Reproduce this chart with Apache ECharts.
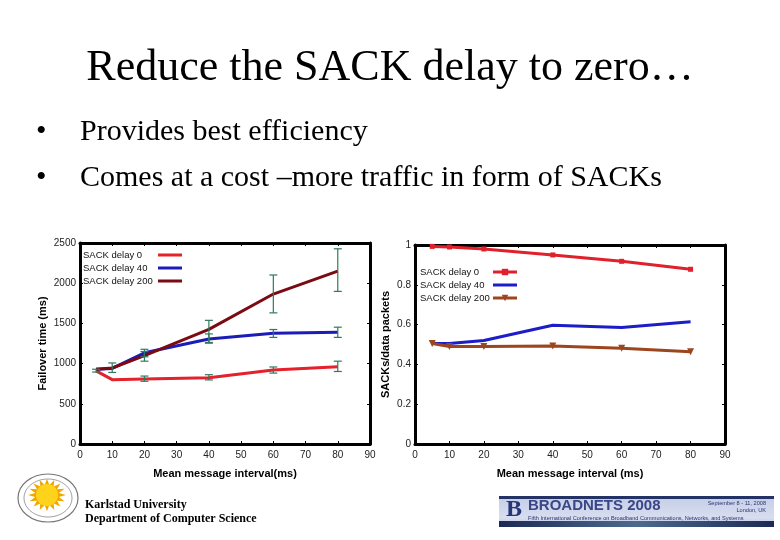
<!DOCTYPE html>
<html>
<head>
<meta charset="utf-8">
<script src="https://cdn.jsdelivr.net/npm/echarts@6/dist/echarts.min.js"></script>
<style>
  html, body { margin: 0; padding: 0; background: #ffffff; }
  #main { width: 780px; height: 540px; }
</style>
</head>
<body>
<div id="main"></div>
<script>
// Mean message interval (ms)
var intervals = [5, 10, 20, 40, 60, 80];

// Failover time (ms), left chart
var failover0 = [910, 800, 810, 825, 920, 960];
var failover40 = [930, 940, 1135, 1305, 1377, 1390];
var failover200 = [930, 945, 1100, 1425, 1865, 2150];

// error bars: [interval, low, high]
var failErr0 = [[5, 895, 930], [20, 780, 845], [40, 797, 862], [60, 882, 958], [80, 902, 1030]];
var failErr40 = [[10, 890, 1008], [20, 1085, 1178], [40, 1254, 1369], [60, 1326, 1424], [80, 1326, 1453]];
var failErr200 = [[20, 1030, 1150], [40, 1263, 1538], [60, 1631, 2102], [80, 1898, 2428]];

// SACKs / data packets, right chart
var ratio0 = [0.993, 0.99, 0.98, 0.95, 0.918, 0.878];
var ratio40 = [0.505, 0.505, 0.52, 0.597, 0.585, 0.614];
var ratio200 = [0.505, 0.49, 0.49, 0.493, 0.481, 0.463];

var legendNames = ['SACK delay 0', 'SACK delay 40', 'SACK delay 200'];
var legendNamesRight = ['SACK delay 0 ', 'SACK delay 40 ', 'SACK delay 200 '];

var chart = echarts.init(document.getElementById('main'));

var sans = 'Liberation Sans';
var errColor = '#2f7a5c';

function pairs(ys) {
  return intervals.map(function (x, i) { return [x, ys[i]]; });
}

function errorBars(params, api) {
  var x = api.value(0);
  var lo = api.coord([x, api.value(1)]);
  var hi = api.coord([x, api.value(2)]);
  var w = 4;
  var st = { stroke: errColor, lineWidth: 1.2 };
  return {
    type: 'group',
    children: [
      { type: 'line', shape: { x1: lo[0], y1: lo[1], x2: hi[0], y2: hi[1] }, style: st },
      { type: 'line', shape: { x1: lo[0] - w, y1: lo[1], x2: lo[0] + w, y2: lo[1] }, style: st },
      { type: 'line', shape: { x1: hi[0] - w, y1: hi[1], x2: hi[0] + w, y2: hi[1] }, style: st }
    ]
  };
}

function xAx(grid, pos, named) {
  return {
    type: 'value', gridIndex: grid, position: pos,
    min: 0, max: 90, interval: 10,
    axisLine: { show: true, onZero: false, lineStyle: { color: '#000', width: 3 } },
    axisTick: { show: true, inside: true, length: 3, lineStyle: { color: '#000' } },
    axisLabel: { show: named, color: '#222', fontFamily: sans, fontSize: 10, margin: 6 },
    splitLine: { show: false },
    name: named ? (grid === 0 ? 'Mean message interval(ms)' : 'Mean message interval (ms)') : '',
    nameLocation: 'middle', nameGap: 24,
    nameTextStyle: { color: '#000', fontFamily: sans, fontSize: 11, fontWeight: 'bold' }
  };
}

function yAx(grid, pos, named, max, interval, name) {
  return {
    type: 'value', gridIndex: grid, position: pos,
    min: 0, max: max, interval: interval,
    axisLine: { show: true, onZero: false, lineStyle: { color: '#000', width: 3 } },
    axisTick: { show: true, inside: true, length: 3, lineStyle: { color: '#000' } },
    axisLabel: { show: named, color: '#222', fontFamily: sans, fontSize: 10, margin: 4,
      formatter: function (v) { return String(v); } },
    splitLine: { show: false },
    name: named ? name : '',
    nameLocation: 'middle', nameGap: grid === 0 ? 32 : 24,
    nameTextStyle: { color: '#000', fontFamily: sans, fontSize: 11, fontWeight: 'bold' }
  };
}

// legend entries: thick line, markers only where the reference shows them
function legendItems(names, markers) {
  return names.map(function (n, i) {
    return { name: n, lineStyle: { width: 3 }, itemStyle: markers[i] ? {} : { opacity: 0 } };
  });
}

function legendText(w) {
  return {
    fontFamily: sans, fontSize: 9.5, color: '#111',
    rich: { t: { width: w, align: 'left', fontFamily: sans, fontSize: 9.5, color: '#111' } }
  };
}

var option = {
  backgroundColor: '#ffffff',
  animation: false,
  grid: [
    { left: 80, top: 243, width: 290, height: 201 },
    { left: 415, top: 245, width: 310, height: 199 }
  ],
  xAxis: [xAx(0, 'bottom', true), xAx(0, 'top', false), xAx(1, 'bottom', true), xAx(1, 'top', false)],
  yAxis: [
    yAx(0, 'left', true, 2500, 500, 'Failover time (ms)'),
    yAx(0, 'right', false, 2500, 500, ''),
    yAx(1, 'left', true, 1, 0.2, 'SACKs/data packets'),
    yAx(1, 'right', false, 1, 0.2, '')
  ],
  legend: [
    {
      data: legendItems(legendNames, [false, false, false]),
      orient: 'vertical', left: 78, top: 245, align: 'right',
      itemWidth: 24, itemHeight: 8, itemGap: 3,
      formatter: function (n) { return '{t|' + n + '}'; },
      textStyle: legendText(70)
    },
    {
      data: legendItems(legendNamesRight, [true, false, true]),
      orient: 'vertical', left: 415, top: 262, align: 'right',
      itemWidth: 24, itemHeight: 8, itemGap: 3,
      formatter: function (n) { return '{t|' + n + '}'; },
      textStyle: legendText(68)
    }
  ],
  series: [
    { name: legendNames[0], type: 'line', xAxisIndex: 0, yAxisIndex: 0, data: pairs(failover0),
      symbol: 'none', lineStyle: { color: '#e3222b', width: 3 }, itemStyle: { color: '#e3222b' } },
    { name: legendNames[1], type: 'line', xAxisIndex: 0, yAxisIndex: 0, data: pairs(failover40),
      symbol: 'none', lineStyle: { color: '#1c1cb8', width: 3 }, itemStyle: { color: '#1c1cb8' } },
    { name: legendNames[2], type: 'line', xAxisIndex: 0, yAxisIndex: 0, data: pairs(failover200),
      symbol: 'none', lineStyle: { color: '#7a0b12', width: 3 }, itemStyle: { color: '#7a0b12' } },
    { type: 'custom', xAxisIndex: 0, yAxisIndex: 0, renderItem: errorBars, z: 5,
      data: failErr0.concat(failErr40, failErr200) },

    { name: legendNamesRight[0], type: 'line', xAxisIndex: 2, yAxisIndex: 2, data: pairs(ratio0),
      symbol: 'rect', symbolSize: 5, lineStyle: { color: '#e0202a', width: 3 }, itemStyle: { color: '#e0202a' } },
    { name: legendNamesRight[1], type: 'line', xAxisIndex: 2, yAxisIndex: 2, data: pairs(ratio40),
      symbol: 'none', lineStyle: { color: '#1c1cc8', width: 3 }, itemStyle: { color: '#1c1cc8' } },
    { name: legendNamesRight[2], type: 'line', xAxisIndex: 2, yAxisIndex: 2, data: pairs(ratio200),
      symbol: 'triangle', symbolRotate: 180, symbolSize: 7,
      lineStyle: { color: '#9c4620', width: 3 }, itemStyle: { color: '#9c4620' } }
  ],
  graphic: [
    { type: 'text', left: 'center', top: 46,
      style: { text: 'Reduce the SACK delay to zero…', font: '44px "Liberation Serif"', fill: '#000' } },
    { type: 'text', left: 36, top: 117,
      style: { text: '•', font: '30px "Liberation Serif"', fill: '#000' } },
    { type: 'text', left: 80, top: 117,
      style: { text: 'Provides best efficiency', font: '30px "Liberation Serif"', fill: '#000' } },
    { type: 'text', left: 36, top: 163,
      style: { text: '•', font: '30px "Liberation Serif"', fill: '#000' } },
    { type: 'text', left: 80, top: 163,
      style: { text: 'Comes at a cost –more traffic in form of SACKs', font: '30px "Liberation Serif"', fill: '#000' } },

    // university seal
    { type: 'ellipse', shape: { cx: 48, cy: 498, rx: 30, ry: 24 },
      style: { fill: '#fff', stroke: '#777', lineWidth: 1.2 } },
    { type: 'ellipse', shape: { cx: 48, cy: 498, rx: 24, ry: 19 },
      style: { fill: 'none', stroke: '#888', lineWidth: 0.8 } },
    { type: 'polygon',
      shape: { points: (function () {
        var pts = [];
        for (var i = 0; i < 32; i++) {
          var a = i * Math.PI / 16;
          var r = i % 2 === 0 ? 19 : 12;
          pts.push([47 + r * Math.cos(a), 495 + r * Math.sin(a) * 0.85]);
        }
        return pts;
      })() },
      style: { fill: '#f0a800' } },
    { type: 'circle', shape: { cx: 47, cy: 495, r: 11 }, style: { fill: '#ffd21c' } },
    { type: 'text', left: 85, top: 499,
      style: { text: 'Karlstad University', font: 'bold 12px "Liberation Serif"', fill: '#000' } },
    { type: 'text', left: 85, top: 513,
      style: { text: 'Department of Computer Science', font: 'bold 12px "Liberation Serif"', fill: '#000' } },

    // conference banner
    { type: 'rect', shape: { x: 499, y: 496, width: 275, height: 31 },
      style: { fill: new echarts.graphic.LinearGradient(0, 0, 0, 1, [
        { offset: 0, color: '#c4cde6' }, { offset: 0.7, color: '#d8def0' }, { offset: 1, color: '#b8c2de' }]) } },
    { type: 'rect', shape: { x: 499, y: 496, width: 275, height: 3 }, style: { fill: '#233366' } },
    { type: 'rect', shape: { x: 499, y: 521, width: 275, height: 6 },
      style: { fill: new echarts.graphic.LinearGradient(0, 0, 1, 0, [
        { offset: 0, color: '#1b2a55' }, { offset: 0.5, color: '#4d6a8e' }, { offset: 1, color: '#1b2a55' }]) } },
    { type: 'text', left: 506, top: 498,
      style: { text: 'B', font: 'bold 24px "Liberation Serif"', fill: '#26357a' } },
    { type: 'text', left: 528, top: 498,
      style: { text: 'BROADNETS 2008', font: 'bold 15px "Liberation Sans"', fill: '#3a4686' } },
    { type: 'text', left: 528, top: 515,
      style: { text: 'Fifth International Conference on Broadband Communications, Networks, and Systems',
        font: '5.6px "Liberation Sans"', fill: '#2a3470' } },
    { type: 'text', right: 14, top: 500,
      style: { text: 'September 8 - 11, 2008', font: '5.6px "Liberation Sans"', fill: '#2a3470', align: 'right' } },
    { type: 'text', right: 14, top: 507,
      style: { text: 'London, UK', font: '5.6px "Liberation Sans"', fill: '#2a3470', align: 'right' } }
  ]
};

chart.setOption(option);
</script>
</body>
</html>
